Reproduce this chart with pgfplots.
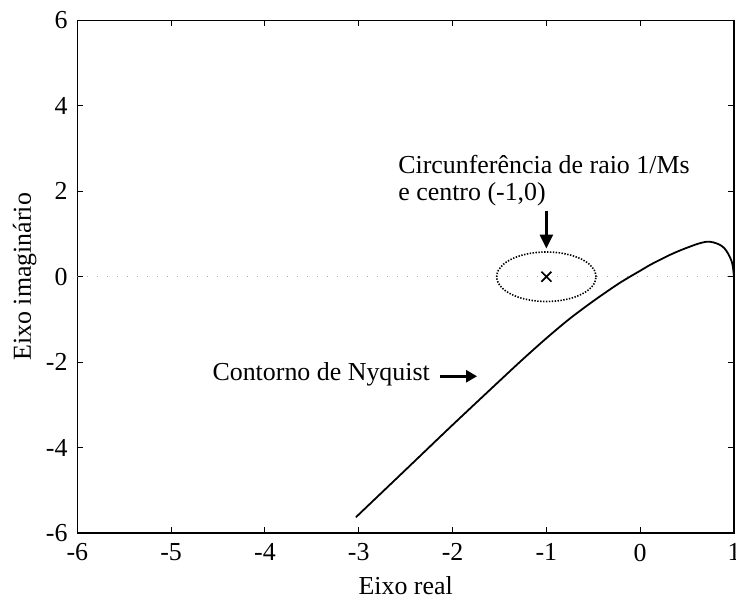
\documentclass[border=0pt]{standalone}
\usepackage{fontspec}
\setmainfont{Liberation Serif}
\usepackage{pgfplots}
\pgfplotsset{compat=1.18}
\usetikzlibrary{arrows.meta}
\begin{document}
\fontsize{26}{31}\selectfont
\begin{tikzpicture}
\begin{axis}[
  scale only axis, width=656.7bp, height=512.5bp,
  xmin=-6, xmax=1, ymin=-6, ymax=6,
  xtick={-6,-5,-4,-3,-2,-1,0,1}, ytick={-6,-4,-2,0,2,4,6},
  tick align=inside, major tick length=6bp,
  axis line style={line width=1.3bp, black},
  every tick/.style={line width=1bp, black},
  /pgf/number format/assume math mode=true,
  xlabel={Eixo real}, ylabel={Eixo imaginário},
  xlabel style={at={(axis description cs:0.5,-0.102)}, anchor=center},
  ylabel style={at={(axis description cs:-0.080,0.5)}, anchor=center},
  xticklabel style={yshift=-2bp},
  yticklabel style={xshift=-1bp},
]
\coordinate (bl) at (rel axis cs:0,0);
\coordinate (tr) at (rel axis cs:1,1);
% zero line
\addplot[gray!70, line width=1bp, dash pattern=on 1bp off 9bp] coordinates {(-6,0) (1,0)};
% circle of radius 1/Ms centred at (-1,0)
\addplot[black, line width=1.6bp, dash pattern=on 1.4bp off 1.5bp, smooth] coordinates {
(-0.47,0) (-0.488,0.150) (-0.541,0.29) (-0.625,0.41) (-0.735,0.502) (-0.863,0.560)
(-1,0.58) (-1.137,0.56) (-1.265,0.502) (-1.375,0.41) (-1.459,0.29) (-1.512,0.15)
(-1.53,0) (-1.512,-0.15) (-1.459,-0.29) (-1.375,-0.41) (-1.265,-0.502) (-1.137,-0.56)
(-1,-0.58) (-0.863,-0.56) (-0.735,-0.502) (-0.625,-0.41) (-0.541,-0.29) (-0.488,-0.15)
(-0.47,0)};
% centre mark
\addplot[only marks, mark=x, mark size=7bp, mark options={line width=1.6bp, black}] coordinates {(-1,0)};
% Nyquist contour
\addplot[black, line width=1.8bp, smooth] coordinates {
(-3.03,-5.63) (-2.5,-4.52) (-2.0,-3.47) (-1.5,-2.44) (-1.25,-1.93) (-1.0,-1.44)
(-0.75,-0.98) (-0.5,-0.57) (-0.25,-0.19) (-0.11,0.0) (0.0,0.14) (0.1,0.27)
(0.2,0.385) (0.32,0.515) (0.43,0.62) (0.53,0.705) (0.62,0.775) (0.71,0.82)
(0.78,0.805) (0.852,0.745) (0.9,0.66) (0.94,0.53) (0.97,0.39) (0.987,0.25) (1.0,0.0)};
% annotations
\node[anchor=west, inner sep=0pt] at (axis cs:-2.58,2.62) {Circunferência de raio 1/Ms};
\node[anchor=west, inner sep=0pt] at (axis cs:-2.58,1.92) {e centro (-1,0)};
\draw[line width=2.4bp, -{Triangle[length=14bp,width=13bp]}] (axis cs:-1,1.55) -- (axis cs:-1,0.66);
\node[anchor=east, inner sep=0pt] at (axis cs:-2.24,-2.29) {Contorno de Nyquist};
\draw[line width=2.6bp, -{Triangle[length=11bp,width=12bp]}] (axis cs:-2.133,-2.33) -- (axis cs:-1.739,-2.33);
\end{axis}
\pgfresetboundingbox
\useasboundingbox ([xshift=-77.3bp,yshift=-72bp]bl) rectangle ([xshift=2bp,yshift=20.5bp]tr);
\end{tikzpicture}
\end{document}
